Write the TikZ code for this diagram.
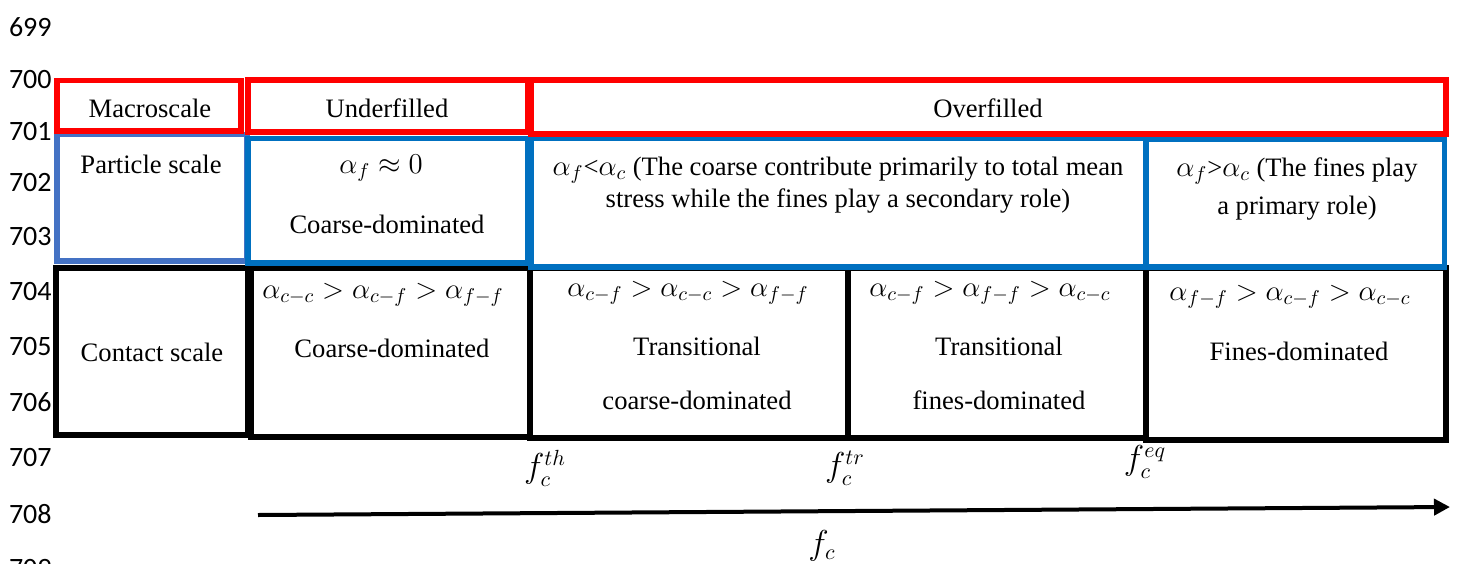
\documentclass[tikz,border=0pt]{standalone}
\usepackage{fontspec}
\setmainfont{Liberation Serif}
\newfontfamily\tnr{Liberation Serif}
\newfontfamily\lnfont{Carlito}
\usetikzlibrary{fit,arrows.meta}
\definecolor{myred}{HTML}{FF0000}
\definecolor{myblue}{HTML}{0070C0}
\definecolor{mylblue}{HTML}{4472C4}
\begin{document}
\begin{tikzpicture}[x=0.5pt,y=-0.5pt,
  boxbase/.style={draw,rectangle,inner sep=0pt,line join=miter},
  redbox/.style={boxbase,draw=myred,line width=2.75pt},
  bluebox/.style={boxbase,draw=myblue,line width=2.6pt},
  lbluebox/.style={boxbase,draw=mylblue,line width=2.6pt},
  blackbox/.style={boxbase,draw=black,line width=3.25pt},
  thinblack/.style={boxbase,draw=black,line width=2.6pt},
  txt/.style={inner sep=0pt,font=\tnr\fontsize{13.3}{16}\selectfont},
  mtxt/.style={inner sep=0pt,font=\tnr\fontsize{13.8}{17}\selectfont},
  flab/.style={inner sep=0pt,font=\fontsize{16}{18}\selectfont},
  lnum/.style={inner sep=0pt,anchor=east,font=\lnfont\fontsize{14}{16}\selectfont}
]
\useasboundingbox (0,0) rectangle (1462,563);
% line numbers
\node[lnum] (l699) at (52,27) {699};
\node[lnum] (l700) at (52,80) {700};
\node[lnum] (l701) at (52,132) {701};
\node[lnum] (l702) at (52,183) {702};
\node[lnum] (l703) at (52,237) {703};
\node[lnum] (l704) at (52,292) {704};
\node[lnum] (l705) at (52,347) {705};
\node[lnum] (l706) at (52,402) {706};
\node[lnum] (l707) at (52,458) {707};
\node[lnum] (l708) at (52,514) {708};
\node[lnum] (l709) at (52,568) {709};
% black row
\node[thinblack,fit={(56,268) (248,435)}] (contact) {};
\node[blackbox,fit={(251,268) (530,437)}] (cunder) {};
\node[blackbox,fit={(530,268) (848,438)}] (ctwo) {};
\node[blackbox,fit={(848,268) (1146,438)}] (cthree) {};
\node[blackbox,fit={(1146,268) (1446,440)}] (cfour) {};
% blue row
\node[lbluebox,fit={(57,134.5) (247,261)}] (particle) {};
\node[bluebox,fit={(248,138.5) (528,263)}] (bunder) {};
\node[bluebox,fit={(531,138.5) (1146,267)}] (bover) {};
\node[bluebox,fit={(1146,139) (1444.5,267)}] (bovertwo) {};
% red row
\node[redbox,fit={(57,80.5) (241,131)}] (macro) {};
\node[redbox,fit={(248,80) (528,132)}] (under) {};
\node[redbox,fit={(531,80) (1446,134)}] (over) {};
% texts
\node[txt] (tmacro) at (150,108) {Macroscale};
\node[txt] (tunder) at (387,108) {Underfilled};
\node[txt] (tover) at (988,108) {Overfilled};
\node[txt] (tparticle) at (151,164) {Particle scale};
\node[mtxt] (tbu1) at (381,168) {$\alpha_f \approx 0$};
\node[txt] (tbu2) at (387,224) {Coarse-dominated};
\node[txt] (tbo1) at (838,170) {{\fontsize{14.5}{17}\selectfont$\alpha_f$}<{\fontsize{14.5}{17}\selectfont$\alpha_c$} (The coarse contribute primarily to total mean};
\node[txt] (tbo2) at (838,201) {stress while the fines play a secondary role)};
\node[txt] (tbt1) at (1297,171) {{\fontsize{14.5}{17}\selectfont$\alpha_f$}>{\fontsize{14.5}{17}\selectfont$\alpha_c$} (The fines play};
\node[txt] (tbt2) at (1297,208) {a primary role)};
\node[txt] (tcontact) at (152,352) {Contact scale};
\node[mtxt] (tcu1) at (383,295) {$\alpha_{c-c} > \alpha_{c-f} > \alpha_{f-f}$};
\node[txt] (tcu2) at (392,348) {Coarse-dominated};
\node[mtxt] (tct1) at (688,293) {$\alpha_{c-f} > \alpha_{c-c} > \alpha_{f-f}$};
\node[txt] (tct2) at (697,346) {Transitional};
\node[txt] (tct3) at (697,400) {coarse-dominated};
\node[mtxt] (tch1) at (990,293) {$\alpha_{c-f} > \alpha_{f-f} > \alpha_{c-c}$};
\node[txt] (tch2) at (999,346) {Transitional};
\node[txt] (tch3) at (999,400) {fines-dominated};
\node[mtxt] (tcf1) at (1290,297) {$\alpha_{f-f} > \alpha_{c-f} > \alpha_{c-c}$};
\node[txt] (tcf2) at (1299,351) {Fines-dominated};
% axis
\node[flab] (fth) at (545,468) {$f_c^{th}$};
\node[flab] (ftr) at (845,468) {$f_c^{tr}$};
\node[flab] (feq) at (1145,462) {$f_c^{eq}$};
\node[flab] (fc) at (822,546) {$f_c$};
\coordinate (astart) at (258,515);
\coordinate (aend) at (1450,507);
\draw[line width=2pt,-{Triangle[length=8pt,width=8pt]}] (astart) -- (aend);
\end{tikzpicture}
\end{document}
